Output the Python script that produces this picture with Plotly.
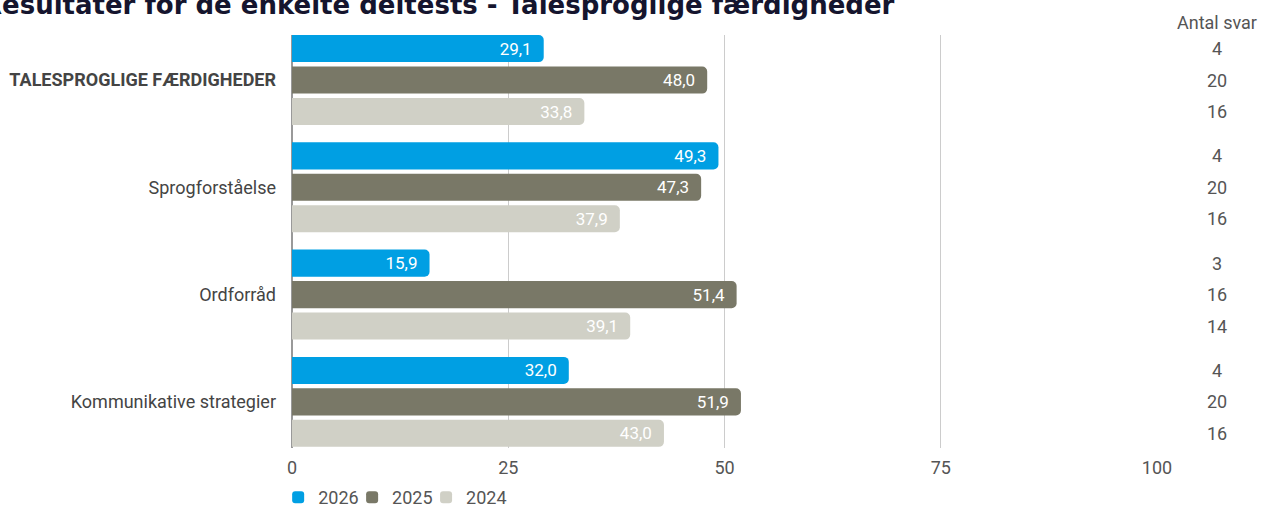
import plotly.graph_objects as go

categories = ["<b>TALESPROGLIGE FÆRDIGHEDER</b>", "Sprogforståelse", "Ordforråd", "Kommunikative strategier"]
years = ["2026", "2025", "2024"]
values_2026 = [29.1, 49.3, 15.9, 32.0]
values_2025 = [48.0, 47.3, 51.4, 51.9]
values_2024 = [33.8, 37.9, 39.1, 43.0]
counts_2026 = [4, 4, 3, 4]
counts_2025 = [20, 20, 16, 20]
counts_2024 = [16, 16, 14, 16]
x_ticks = [0, 25, 50, 75, 100]
title_text = "Resultater for de enkelte deltests - Talesproglige færdigheder"

colors = {"2026": "#009FE3", "2025": "#797867", "2024": "#D0D0C6"}
series = {"2026": values_2026, "2025": values_2025, "2024": values_2024}
counts = {"2026": counts_2026, "2025": counts_2025, "2024": counts_2024}
legend_ids = {"2026": "legend", "2025": "legend2", "2024": "legend3"}
legend_x = {"legend": -0.016, "legend2": 0.0695, "legend3": 0.155}

FS = 18
fig = go.Figure()
for yr in years:
    vals = series[yr]
    fig.add_trace(go.Bar(
        y=categories, x=vals, name=yr, orientation="h",
        marker=dict(color=colors[yr], line=dict(width=0)),
        text=[f"{v:.1f}".replace(".", ",") + "\u00a0\u00a0" for v in vals],
        textposition="inside", insidetextanchor="end",
        textfont=dict(color="white", size=17, family="Roboto"),
        cliponaxis=False, legend=legend_ids[yr],
    ))

legend_common = dict(orientation="h", xanchor="left", yref="paper", y=-0.075, yanchor="top",
                     font=dict(size=FS, color="#555555"), bgcolor="rgba(0,0,0,0)")
fig.update_layout(
    barmode="group", bargap=0.12, bargroupgap=0.14, barcornerradius=5,
    width=1261, height=509,
    margin=dict(l=292, r=104, t=35, b=61, autoexpand=False),
    paper_bgcolor="white", plot_bgcolor="white",
    font=dict(family="Roboto", size=FS, color="#555555"),
    showlegend=True,
    legend=dict(x=legend_x["legend"], **legend_common),
    legend2=dict(x=legend_x["legend2"], **legend_common),
    legend3=dict(x=legend_x["legend3"], **legend_common),
    uniformtext=dict(mode="show", minsize=10),
)
fig.update_xaxes(range=[0, 100], tickvals=x_ticks, ticktext=[str(t) for t in x_ticks],
                 showgrid=True, gridcolor="#CCCCCC", gridwidth=1,
                 zeroline=True, zerolinecolor="#999999", zerolinewidth=2,
                 showline=False, ticks="", ticklabelstandoff=7,
                 tickfont=dict(size=FS, color="#555555"))
fig.update_yaxes(type="category", categoryorder="array", categoryarray=categories,
                 range=[3.43, -0.42], showgrid=False, showline=False, ticks="",
                 ticklabelstandoff=15, tickfont=dict(size=FS, color="#444444"))

offsets = {"2026": -31.5, "2025": 0, "2024": 31.5}
for yr in years:
    for cat, n in zip(categories, counts[yr]):
        fig.add_annotation(x=1.069, xref="paper", y=cat, yref="y", yshift=-offsets[yr],
                           text=str(n), showarrow=False, xanchor="center",
                           font=dict(size=FS, color="#555555", family="Roboto"))
fig.add_annotation(x=1.069, xref="paper", y=1.0, yref="paper", text="Antal svar",
                   showarrow=False, xanchor="center", yanchor="bottom",
                   font=dict(size=FS, color="#555555", family="Roboto"))
fig.add_annotation(x=-0.3607, xref="paper", y=1.031, yref="paper", yanchor="bottom",
                   text=f"<b>{title_text}</b>", showarrow=False, xanchor="left",
                   font=dict(size=26, color="#15152e", family="DejaVu Sans"))

fig.write_html("out.html", config={"displayModeBar": False},
               post_script="document.body.style.margin='0';")
